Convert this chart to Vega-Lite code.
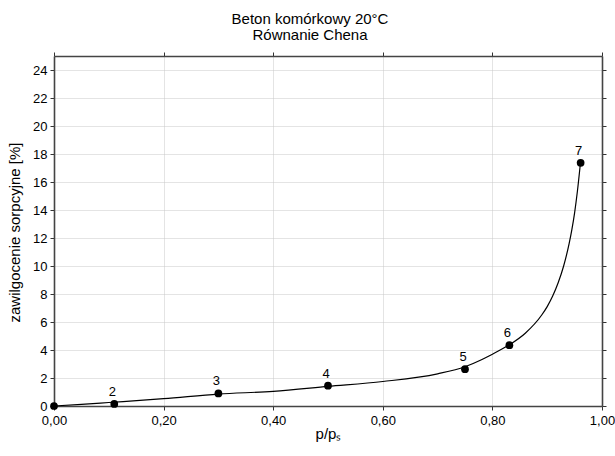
{
  "$schema": "https://vega.github.io/schema/vega-lite/v6.json",
  "width": 548,
  "height": 350,
  "autosize": {"type": "none"},
  "padding": {"left": 54, "top": 56, "right": 13, "bottom": 50},
  "background": "white",
  "config": {
    "font": "Liberation Sans",
    "view": {"stroke": null},
    "axis": {
      "labelFont": "Liberation Sans",
      "titleFont": "Liberation Sans",
      "labelFontSize": 13,
      "titleFontSize": 15,
      "titleFontWeight": "normal",
      "labelColor": "#000",
      "titleColor": "#000",
      "labelFlush": false,
      "domainColor": "#444",
      "domainWidth": 1.6,
      "tickColor": "#333",
      "tickSize": 4,
      "gridColor": "#c8c8c8",
      "gridDash": [1, 1],
      "gridWidth": 1
    }
  },
  "title": {
    "text": ["Beton komórkowy 20°C", "Równanie Chena"],
    "font": "Liberation Sans",
    "fontSize": 15,
    "fontWeight": "normal",
    "color": "#000",
    "anchor": "middle",
    "dx": -18,
    "offset": 9,
    "lineHeight": 16
  },
  "datasets": {
    "curve": [
      {"x": 0.0, "y": 0.0},
      {"x": 0.05, "y": 0.12},
      {"x": 0.1, "y": 0.25},
      {"x": 0.2, "y": 0.52},
      {"x": 0.3, "y": 0.85},
      {"x": 0.4, "y": 1.05},
      {"x": 0.5, "y": 1.4},
      {"x": 0.6, "y": 1.75},
      {"x": 0.7, "y": 2.3},
      {"x": 0.75, "y": 2.8},
      {"x": 0.78, "y": 3.3},
      {"x": 0.8, "y": 3.7},
      {"x": 0.83, "y": 4.35},
      {"x": 0.86, "y": 5.2},
      {"x": 0.89, "y": 6.5},
      {"x": 0.9, "y": 7.1},
      {"x": 0.91, "y": 7.85},
      {"x": 0.92, "y": 8.8},
      {"x": 0.93, "y": 10.0},
      {"x": 0.94, "y": 11.6},
      {"x": 0.945, "y": 12.6},
      {"x": 0.95, "y": 13.8},
      {"x": 0.955, "y": 15.3},
      {"x": 0.9605, "y": 17.3}
    ],
    "points": [
      {"x": 0.0, "y": 0.0, "label": ""},
      {"x": 0.11, "y": 0.15, "label": "2"},
      {"x": 0.30, "y": 0.9, "label": "3"},
      {"x": 0.50, "y": 1.45, "label": "4"},
      {"x": 0.75, "y": 2.63, "label": "5"},
      {"x": 0.831, "y": 4.34, "label": "6"},
      {"x": 0.961, "y": 17.37, "label": "7"}
    ]
  },
  "layer": [
    {
      "data": {"name": "curve"},
      "mark": {"type": "line", "color": "#000", "strokeWidth": 1.2, "interpolate": "monotone"},
      "encoding": {
        "x": {
          "field": "x", "type": "quantitative",
          "scale": {"domain": [0, 1], "nice": false},
          "axis": {
            "values": [0, 0.2, 0.4, 0.6, 0.8, 1.0],
            "labelExpr": "replace(format(datum.value, '.2f'), '.', ',')",
            "title": "p/pₛ",
            "titleX": 274,
            "titleY": 32,
            "titleBaseline": "alphabetic",
            "labelPadding": 4,
            "grid": true
          }
        },
        "y": {
          "field": "y", "type": "quantitative",
          "scale": {"domain": [0, 25], "nice": false},
          "axis": {
            "values": [0, 2, 4, 6, 8, 10, 12, 14, 16, 18, 20, 22, 24],
            "title": "zawilgocenie sorpcyjne [%]",
            "titleX": -40,
            "titleY": 176,
            "titleBaseline": "middle",
            "grid": true,
            "labelPadding": 3
          }
        }
      }
    },
    {
      "data": {"name": "points"},
      "mark": {"type": "circle", "color": "#000", "size": 60, "opacity": 1},
      "encoding": {
        "x": {
          "field": "x", "type": "quantitative",
          "axis": {"orient": "top", "values": [0, 0.2, 0.4, 0.6, 0.8, 1.0], "labels": false, "title": null, "grid": false}
        },
        "y": {
          "field": "y", "type": "quantitative",
          "axis": {"orient": "right", "values": [0, 2, 4, 6, 8, 10, 12, 14, 16, 18, 20, 22, 24], "labels": false, "title": null, "grid": false}
        }
      }
    },
    {
      "data": {"name": "points"},
      "mark": {"type": "text", "color": "#000", "fontSize": 13, "font": "Liberation Sans", "dy": -8, "baseline": "alphabetic", "dx": -2},
      "encoding": {
        "x": {"field": "x", "type": "quantitative", "axis": null},
        "y": {"field": "y", "type": "quantitative", "axis": null},
        "text": {"field": "label"}
      }
    }
  ],
  "resolve": {"axis": {"x": "independent", "y": "independent"}}
}
